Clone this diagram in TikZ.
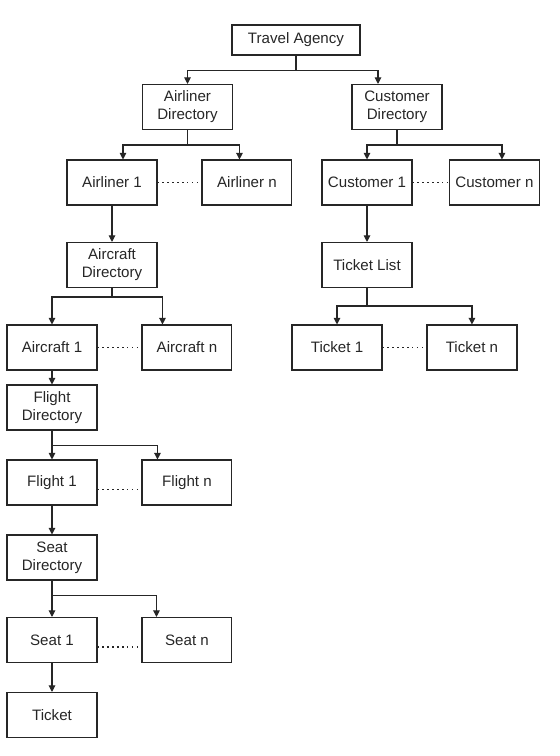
\documentclass[tikz,border=0pt]{standalone}
\usepackage{fontspec}
\setmainfont{Liberation Sans}
\usetikzlibrary{positioning, arrows.meta}

\begin{document}
\begin{tikzpicture}[x=0.02cm, y=-0.02cm, node distance=2.7cm, line width=0.6pt, color=black!85,
  every node/.style={font=\fontsize{8.6}{10.2}\selectfont},
  box/.style={draw, minimum width=1.8cm, minimum height=0.9cm, inner sep=1pt, align=center},
  arr/.style={-{Triangle[width=3.8pt,length=3.8pt]}}]
  \useasboundingbox (0,0) rectangle (559,756);
  \node (agency) [box, minimum width=2.56cm, minimum height=0.6cm] at (296,40) {Travel Agency};
  \node (airdir) [box] at (187.5,107) {Airliner\\Directory};
  \node (custdir) [box] at (397,107) {Customer\\Directory};
  \node (air1) [box] at (112,182.5) {Airliner 1};
  \node (airn) [box, right of=air1] {Airliner n};
  \node (cust1) [box] at (367,182.5) {Customer 1};
  \node (custn) [box, right of=cust1, node distance=2.55cm] {Customer n};
  \node (aircdir) [box] at (112,265) {Aircraft\\Directory};
  \node (tlist) [box] at (367,265) {Ticket List};
  \node (airc1) [box] at (52,347.5) {Aircraft 1};
  \node (aircn) [box, right of=airc1] {Aircraft n};
  \node (tick1) [box] at (337,347.5) {Ticket 1};
  \node (tickn) [box, right of=tick1] {Ticket n};
  \node (fltdir) [box] at (52,407.5) {Flight\\Directory};
  \node (flt1) [box] at (52,482.5) {Flight 1};
  \node (fltn) [box, right of=flt1] {Flight n};
  \node (seatdir) [box] at (52,557.5) {Seat\\Directory};
  \node (seat1) [box] at (52,640) {Seat 1};
  \node (seatn) [box, right of=seat1] {Seat n};
  \node (ticket) [box] at (52,715) {Ticket};

  \draw[arr] (agency.south) -- ++(0,15) -| (airdir.north);
  \draw[arr] (agency.south) -- ++(0,15) -| ([xshift=-0.38cm]custdir.north);
  \draw[arr] (airdir.south) -- ++(0,15) -| ([xshift=0.22cm]air1.north);
  \draw[arr] (airdir.south) -- ++(0,15) -| ([xshift=-0.15cm]airn.north);
  \draw[arr] (custdir.south) -- ++(0,15) -| (cust1.north);
  \draw[arr] (custdir.south) -- ++(0,15) -| ([xshift=0.15cm]custn.north);
  \draw[arr] (air1) -- (aircdir);
  \draw[arr] (cust1) -- (tlist);
  \draw[arr] (aircdir.south) -- ++(0,9) -| (airc1.north);
  \draw[arr] (aircdir.south) -- ++(0,9) -| ([xshift=-0.49cm]aircn.north);
  \draw[arr] (tlist.south) -- ++(0,18) -| (tick1.north);
  \draw[arr] (tlist.south) -- ++(0,18) -| (tickn.north);
  \draw[arr] (airc1) -- (fltdir);
  \draw[arr] (fltdir.south) -- ++(0,15) -| (flt1.north);
  \draw[arr] (fltdir.south) -- ++(0,15) -| ([xshift=-0.59cm]fltn.north);
  \draw[arr] (flt1) -- (seatdir);
  \draw[arr] (seatdir.south) -- ++(0,15) -| (seat1.north);
  \draw[arr] (seatdir.south) -- ++(0,15) -| ([xshift=-0.61cm]seatn.north);
  \draw[arr] (seat1) -- (ticket);

  \draw[dotted, line width=0.8pt] (air1) -- (airn);
  \draw[dotted, line width=0.8pt] (cust1) -- (custn);
  \draw[dotted, line width=0.8pt] (airc1) -- (aircn);
  \draw[dotted, line width=0.8pt] (tick1) -- (tickn);
  \draw[dotted, line width=0.8pt] ([yshift=-0.14cm]flt1.east) -- ([yshift=-0.14cm]fltn.west);
  \draw[dotted, line width=0.8pt] ([yshift=-0.14cm]seat1.east) -- ([yshift=-0.14cm]seatn.west);
\end{tikzpicture}
\end{document}
